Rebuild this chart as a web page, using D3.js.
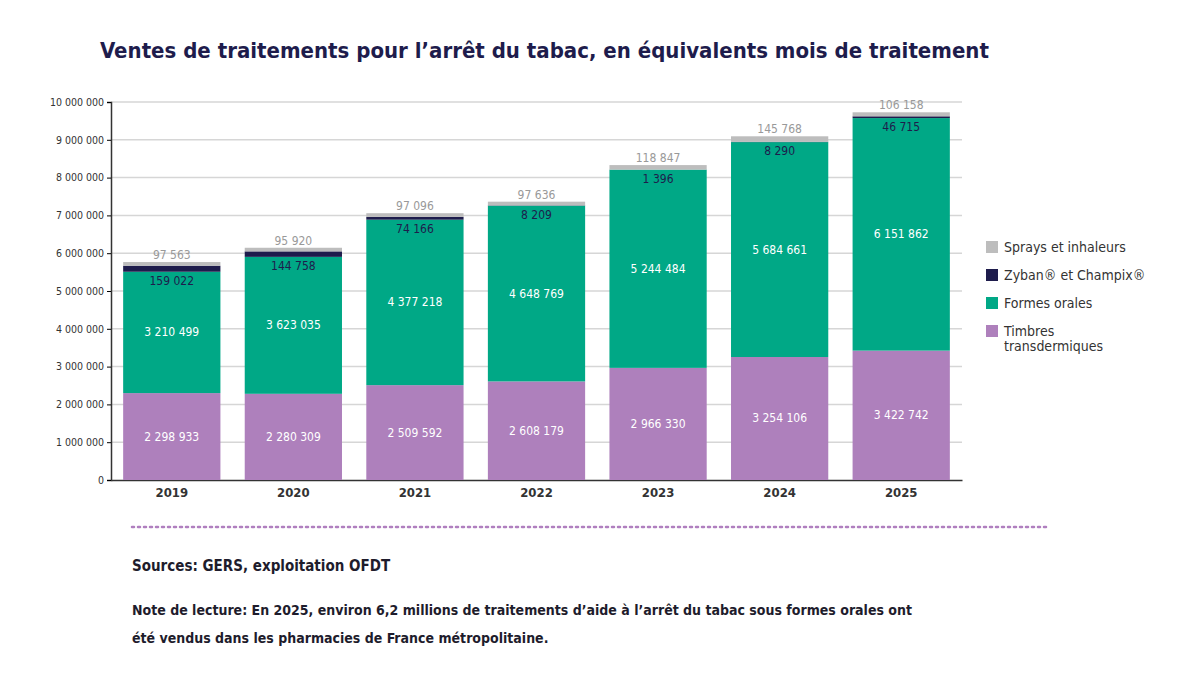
<!DOCTYPE html>
<html><head><meta charset="utf-8">
<script src="https://cdn.jsdelivr.net/npm/d3@7"></script>
<style>body{margin:0;background:#fff}</style></head>
<body><svg id="c" width="1200" height="675"></svg>
<script>
const years=["2019","2020","2021","2022","2023","2024","2025"];
const timbres=[2298933,2280309,2509592,2608179,2966330,3254106,3422742];
const oral=[3210499,3623035,4377218,4648769,5244484,5684661,6151862];
const zyban=[159022,144758,74166,8209,1396,8290,46715];
const sprays=[97563,95920,97096,97636,118847,145768,106158];
const seriesNames=["Timbres transdermiques","Formes orales","Zyban® et Champix®","Sprays et inhaleurs"];
const colors=["#ae80bc","#00a886","#1e1c4c","#bdbdbd"];
const yTicks=d3.range(0,10000001,1000000);

const svg=d3.select("#c");
const F="'DejaVu Sans Condensed','Liberation Sans Narrow',sans-serif";
const fmt=v=>d3.format(",")(v).replace(/,/g," ");
const x=d3.scaleBand().domain(years).range([111,962]).paddingInner(0.2).paddingOuter(0.1);
const y=d3.scaleLinear().domain([0,10000000]).range([480,102]);

svg.append("text").attr("x",100).attr("y",58).attr("font-family",F).attr("font-weight","bold")
 .attr("font-size",22).attr("fill","#1e1c4c").text("Ventes de traitements pour l’arrêt du tabac, en équivalents mois de traitement");

svg.append("g").selectAll("line").data(yTicks.slice(1)).join("line")
 .attr("x1",111).attr("x2",962).attr("y1",d=>y(d)).attr("y2",d=>y(d)).attr("stroke","#d6d6d6").attr("stroke-width",1.5);
const ya=svg.append("g").attr("transform","translate(111,0)").call(d3.axisLeft(y).tickValues(yTicks).tickFormat(fmt).tickSize(4));
ya.select(".domain").attr("stroke","#333").attr("stroke-width",1.5);
ya.selectAll("text").attr("font-family",F).attr("font-size",10.5).attr("fill","#333");
const xa=svg.append("g").attr("transform","translate(0,480)").call(d3.axisBottom(x).tickSize(0));
xa.select(".domain").attr("stroke","#333").attr("stroke-width",1.5);
xa.selectAll("text").attr("font-family",F).attr("font-size",13).attr("font-weight","bold").attr("fill","#333").attr("dy","1.1em");

const rows=years.map((yr,i)=>({year:yr,s0:timbres[i],s1:oral[i],s2:zyban[i],s3:sprays[i]}));
const stack=d3.stack().keys(["s0","s1","s2","s3"])(rows);
stack.forEach((layer,k)=>{
 svg.append("g").selectAll("rect").data(layer).join("rect")
  .attr("x",d=>x(d.data.year)).attr("width",x.bandwidth())
  .attr("y",d=>y(d[1])).attr("height",d=>y(d[0])-y(d[1])).attr("fill",colors[k]);
});
const lab=svg.append("g").attr("font-family",F).attr("font-size",12).attr("text-anchor","middle");
rows.forEach((r,i)=>{
 const cx=x(r.year)+x.bandwidth()/2;
 lab.append("text").attr("x",cx).attr("y",y(r.s0/2)+4).attr("fill","#fff").text(fmt(r.s0));
 lab.append("text").attr("x",cx).attr("y",y(r.s0+r.s1/2)+4).attr("fill","#fff").text(fmt(r.s1));
 lab.append("text").attr("x",cx).attr("y",y(r.s0+r.s1)+13).attr("fill","#1e1c4c").text(fmt(r.s2));
 lab.append("text").attr("x",cx).attr("y",y(r.s0+r.s1+r.s2+r.s3)-3).attr("fill","#999").text(fmt(r.s3));
});

const leg=svg.append("g").attr("font-family",F).attr("font-size",14).attr("fill","#333");
[3,2,1,0].forEach((k,j)=>{
 const yy=247+j*28;
 leg.append("rect").attr("x",986).attr("y",yy-6).attr("width",12).attr("height",12).attr("fill",colors[k]);
 const t=leg.append("text").attr("x",1004).attr("y",yy+5);
 if(k===0){t.text("Timbres");leg.append("text").attr("x",1004).attr("y",yy+20).text("transdermiques");}
 else t.text(seriesNames[k]);
});

svg.append("line").attr("x1",132).attr("x2",1050).attr("y1",527).attr("y2",527)
 .attr("stroke","#b07fbf").attr("stroke-width",2.5).attr("stroke-dasharray","2,4").attr("stroke-linecap","round");
const ft=svg.append("g").attr("font-family",F).attr("font-weight","bold").attr("fill","#1e1c2c");
ft.append("text").attr("x",132).attr("y",571).attr("font-size",15).text("Sources: GERS, exploitation OFDT");
ft.append("text").attr("x",132).attr("y",615).attr("font-size",14).text("Note de lecture:  En 2025, environ 6,2 millions de traitements d’aide à l’arrêt du tabac sous formes orales ont");
ft.append("text").attr("x",132).attr("y",643).attr("font-size",14).text("été vendus dans les pharmacies de France métropolitaine.");
</script></body></html>
